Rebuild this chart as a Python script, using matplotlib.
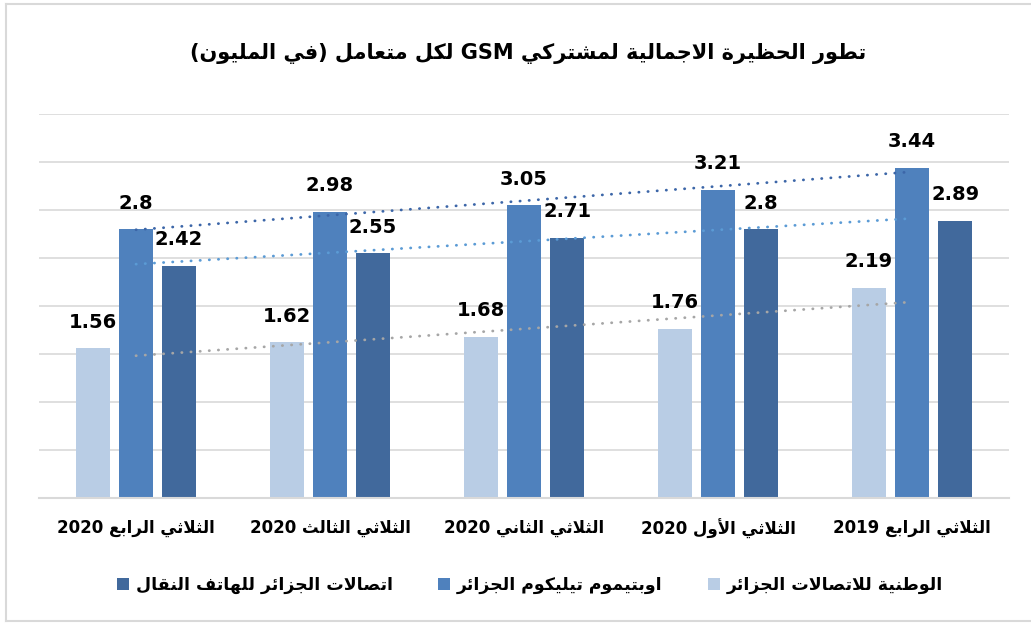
import re
import numpy as np
import matplotlib
matplotlib.use("Agg")
import matplotlib.pyplot as plt
from matplotlib.lines import Line2D

# chart data, left to right as in the picture
categories = ["الثلاثي الرابع 2020", "الثلاثي الثالث 2020", "الثلاثي الثاني 2020",
              "الثلاثي الأول 2020", "الثلاثي الرابع 2019"]
wataniya = [1.56, 1.62, 1.68, 1.76, 2.19]
optimum = [2.8, 2.98, 3.05, 3.21, 3.44]
atm = [2.42, 2.55, 2.71, 2.8, 2.89]
series_names = ["الوطنية للاتصالات الجزائر", "اوبتيموم تيليكوم الجزائر",
                "اتصالات الجزائر للهاتف النقال"]
title = "تطور الحظيرة الاجمالية لمشتركي GSM لكل متعامل (في المليون)"

bar_colors = ["#B9CDE5", "#4F81BD", "#41699C"]
trend_colors = ["#A6A6A6", "#3C66A8", "#5B9BD5"]

# --- minimal arabic shaping (matplotlib has no text shaping / bidi) ---
_DUAL = "ئبتثجحخسشصضطظعغفقكلمنهي"
_BASE = {'ء': 0xFE80, 'آ': 0xFE81, 'أ': 0xFE83, 'ؤ': 0xFE85, 'إ': 0xFE87, 'ئ': 0xFE89,
         'ا': 0xFE8D, 'ب': 0xFE8F, 'ة': 0xFE93, 'ت': 0xFE95, 'ث': 0xFE99, 'ج': 0xFE9D,
         'ح': 0xFEA1, 'خ': 0xFEA5, 'د': 0xFEA9, 'ذ': 0xFEAB, 'ر': 0xFEAD, 'ز': 0xFEAF,
         'س': 0xFEB1, 'ش': 0xFEB5, 'ص': 0xFEB9, 'ض': 0xFEBD, 'ط': 0xFEC1, 'ظ': 0xFEC5,
         'ع': 0xFEC9, 'غ': 0xFECD, 'ف': 0xFED1, 'ق': 0xFED5, 'ك': 0xFED9, 'ل': 0xFEDD,
         'م': 0xFEE1, 'ن': 0xFEE5, 'ه': 0xFEE9, 'و': 0xFEED, 'ى': 0xFEEF, 'ي': 0xFEF1}
_LAMALEF = {'آ': 0xFEF5, 'أ': 0xFEF7, 'إ': 0xFEF9, 'ا': 0xFEFB}


def _shape(text):
    toks = []
    i = 0
    while i < len(text):
        if text[i] == 'ل' and i + 1 < len(text) and text[i + 1] in _LAMALEF:
            toks.append(text[i:i + 2])
            i += 2
        else:
            toks.append(text[i])
            i += 1

    def joins(t):
        return len(t) == 2 or (t in _BASE and t != 'ء')

    def dual(t):
        return len(t) == 1 and t in _DUAL

    out = []
    for k, t in enumerate(toks):
        prev_ok = k > 0 and dual(toks[k - 1]) and joins(t)
        next_ok = dual(t) and k + 1 < len(toks) and joins(toks[k + 1])
        if len(t) == 2:
            out.append(chr(_LAMALEF[t[1]] + (1 if prev_ok else 0)))
        elif t in _DUAL:
            off = 3 if prev_ok and next_ok else 1 if prev_ok else 2 if next_ok else 0
            out.append(chr(_BASE[t] + off))
        elif t in _BASE:
            out.append(chr(_BASE[t] + (1 if prev_ok else 0)))
        else:
            out.append(t)
    return "".join(out)


def ar(text):
    s = _shape(text)[::-1].translate(str.maketrans("()", ")("))
    return re.sub(r"[A-Za-z0-9.]+", lambda m: m.group(0)[::-1], s)


plt.rcParams["font.family"] = ["DejaVu Sans"]

fig = plt.figure(figsize=(10.31, 6.24), dpi=100)
ax = fig.add_axes([39 / 1031, 1 - 498 / 624, 970 / 1031, 384 / 624])

x = np.arange(len(categories))
width = 0.173
step = 0.222
all_series = [wataniya, optimum, atm]
handles = []
for k, (vals, col) in enumerate(zip(all_series, bar_colors)):
    bars = ax.bar(x + (k - 1) * step, vals, width, color=col, zorder=2)
    ax.bar_label(bars, labels=[f"{v:g}" for v in vals], padding=12,
                 fontsize=14, fontweight="bold", color="black")
    handles.append(bars)

# linear trendlines (like the excel ones)
for vals, col in zip(all_series, trend_colors):
    a, b = np.polyfit(x, vals, 1)
    ax.plot(x, a * x + b, color=col, lw=2, linestyle=(0, (0.1, 3.2)),
            dash_capstyle="round", zorder=3)

ax.set_xlim(-0.5, 4.5)
ax.set_ylim(0, 4)
ax.set_yticks(np.arange(0, 4.01, 0.5))
ax.yaxis.grid(True, color="#D9D9D9", lw=1.2, zorder=0)
ax.set_axisbelow(True)
ax.tick_params(axis="y", left=False, labelleft=False)
ax.tick_params(axis="x", length=0, pad=15)
ax.set_xticks(x)
ax.set_xticklabels([ar(c) for c in categories], fontsize=12, fontweight="bold")
for side in ["top", "right", "left"]:
    ax.spines[side].set_visible(False)
ax.spines["bottom"].set_color("#D9D9D9")
ax.spines["bottom"].set_linewidth(1.5)

fig.text(0.512, 1 - 53 / 624, ar(title), ha="center", va="center",
         fontsize=15, fontweight="bold")

leg = fig.legend(handles[::-1], [ar(n) for n in series_names[::-1]], ncol=3,
                 loc="center", bbox_to_anchor=(530 / 1031, 1 - 585 / 624),
                 frameon=False, prop={"weight": "bold", "size": 12.5},
                 handlelength=0.7, handleheight=0.7, handletextpad=0.4,
                 columnspacing=2.6)

# light frame around the chart
kw = dict(color="#D9D9D9", lw=1.5, transform=fig.transFigure)
fig.add_artist(Line2D([6 / 1031, 6 / 1031], [3 / 624, 1 - 4 / 624], **kw))
fig.add_artist(Line2D([6 / 1031, 1], [1 - 4 / 624, 1 - 4 / 624], **kw))
fig.add_artist(Line2D([6 / 1031, 1], [3 / 624, 3 / 624], **kw))

fig.savefig("out.png", dpi=100)
